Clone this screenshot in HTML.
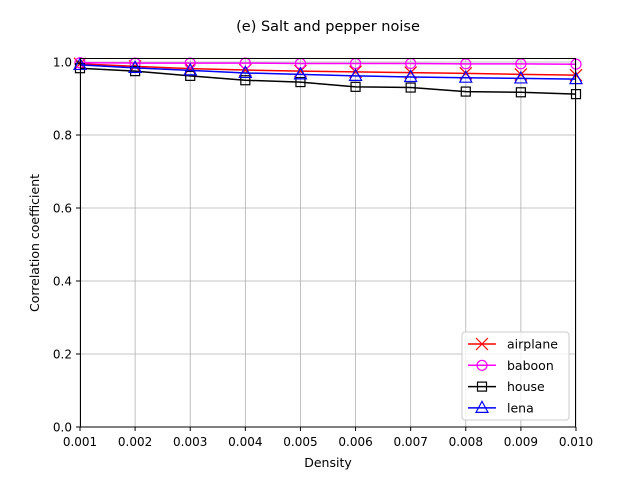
<!DOCTYPE html>
<html><head><meta charset="utf-8"><style>
body{margin:0;background:#fff}
svg{display:block;font-family:"DejaVu Sans","Liberation Sans",sans-serif}
</style></head><body>
<svg id="chart" width="640" height="480">
<rect width="640" height="480" fill="#fff"/>
<text x="328" y="31" font-size="14.5" text-anchor="middle">(e) Salt and pepper noise</text>
<g id="grid"></g>
<g id="series"></g>
<rect x="80.5" y="58.5" width="495" height="368.5" fill="none" stroke="#000" stroke-width="1"/>
<g id="ticks" font-size="12"></g>
<text x="328" y="467" font-size="12.5" text-anchor="middle">Density</text>
<text transform="translate(39,243) rotate(-90)" font-size="12.5" text-anchor="middle">Correlation coefficient</text>
<g id="legend"></g>
</svg>
<script>
const xValues=[0.001,0.002,0.003,0.004,0.005,0.006,0.007,0.008,0.009,0.010];
const airplane=[0.995,0.988,0.982,0.978,0.975,0.973,0.971,0.969,0.966,0.964];
const baboon=[0.998,0.997,0.997,0.997,0.996,0.996,0.996,0.995,0.995,0.994];
const house=[0.983,0.975,0.962,0.950,0.945,0.932,0.930,0.919,0.917,0.912];
const lena=[0.992,0.984,0.977,0.970,0.966,0.962,0.959,0.957,0.955,0.953];
const xTicks=["0.001","0.002","0.003","0.004","0.005","0.006","0.007","0.008","0.009","0.010"];
const yTicks=["0.0","0.2","0.4","0.6","0.8","1.0"];
const NS="http://www.w3.org/2000/svg";
const X=v=>80+(v-0.001)/0.009*496;
const Y=v=>427-v*365;
function mk(t,a,p){const e=document.createElementNS(NS,t);for(const k in a)e.setAttribute(k,a[k]);p.appendChild(e);return e;}
const grid=document.getElementById('grid'),ticks=document.getElementById('ticks');
xTicks.forEach(s=>{const v=parseFloat(s),x=X(v);
 const g=mk('line',{x1:x,x2:x,y1:58,y2:427,stroke:'#b0b0b0','stroke-width':0.8},grid);
 
 mk('line',{x1:x,x2:x,y1:427,y2:431,stroke:'#000'},ticks);
 const t=mk('text',{x:x,y:446,'text-anchor':'middle'},ticks);t.textContent=s;
 });
yTicks.forEach(s=>{const v=parseFloat(s),y=Y(v);
 const g=mk('line',{x1:80,x2:576,y1:y,y2:y,stroke:'#b0b0b0','stroke-width':0.8},grid);
 
 mk('line',{x1:76,x2:80,y1:y,y2:y,stroke:'#000'},ticks);
 const t=mk('text',{x:72,y:y+4.5,'text-anchor':'end'},ticks);t.textContent=s;
 });
function marker(type,x,y,c,p){
 if(type==='x'){const g=mk('path',{d:`M${x-6},${y-6}L${x+6},${y+6}M${x-6},${y+6}L${x+6},${y-6}`,stroke:c,'stroke-width':1.2,fill:'none'},p);return g;}
 if(type==='o')return mk('circle',{cx:x,cy:y,r:5,fill:'none',stroke:c,'stroke-width':1.2},p);
 if(type==='s')return mk('rect',{x:x-4.5,y:y-4.5,width:9,height:9,fill:'none',stroke:c,'stroke-width':1.2},p);
 return mk('path',{d:`M${x},${y-6.5}L${x+6},${y+4.5}L${x-6},${y+4.5}Z`,fill:'none',stroke:c,'stroke-width':1.2},p);
}
const series=[["airplane",airplane,"red","x"],["baboon",baboon,"magenta","o"],["house",house,"black","s"],["lena",lena,"blue","^"]];
const sg=document.getElementById('series');
series.forEach(([name,vals,c,m])=>{
 const g=mk('g',{},sg);
 mk('polyline',{points:vals.map((v,i)=>X(xValues[i])+','+Y(v)).join(' '),fill:'none',stroke:c,'stroke-width':1.5},g);
 vals.forEach((v,i)=>{const e=marker(m,X(xValues[i]),Y(v),c,g);});
});
const lg=document.getElementById('legend');
const box=mk('rect',{x:462,y:332,width:107,height:88,rx:3,fill:'#fff','fill-opacity':0.8,stroke:'#ccc'},lg);

series.forEach(([name,vals,c,m],i)=>{const y=344+i*21.3;
 const g=mk('g',{},lg);
 mk('line',{x1:468,x2:496,y1:y,y2:y,stroke:c,'stroke-width':1.5},g);marker(m,482,y,c,g);
 const t=mk('text',{x:507,y:y+4.5,'font-size':12.5},g);t.textContent=name;});
</script>
</body></html>
